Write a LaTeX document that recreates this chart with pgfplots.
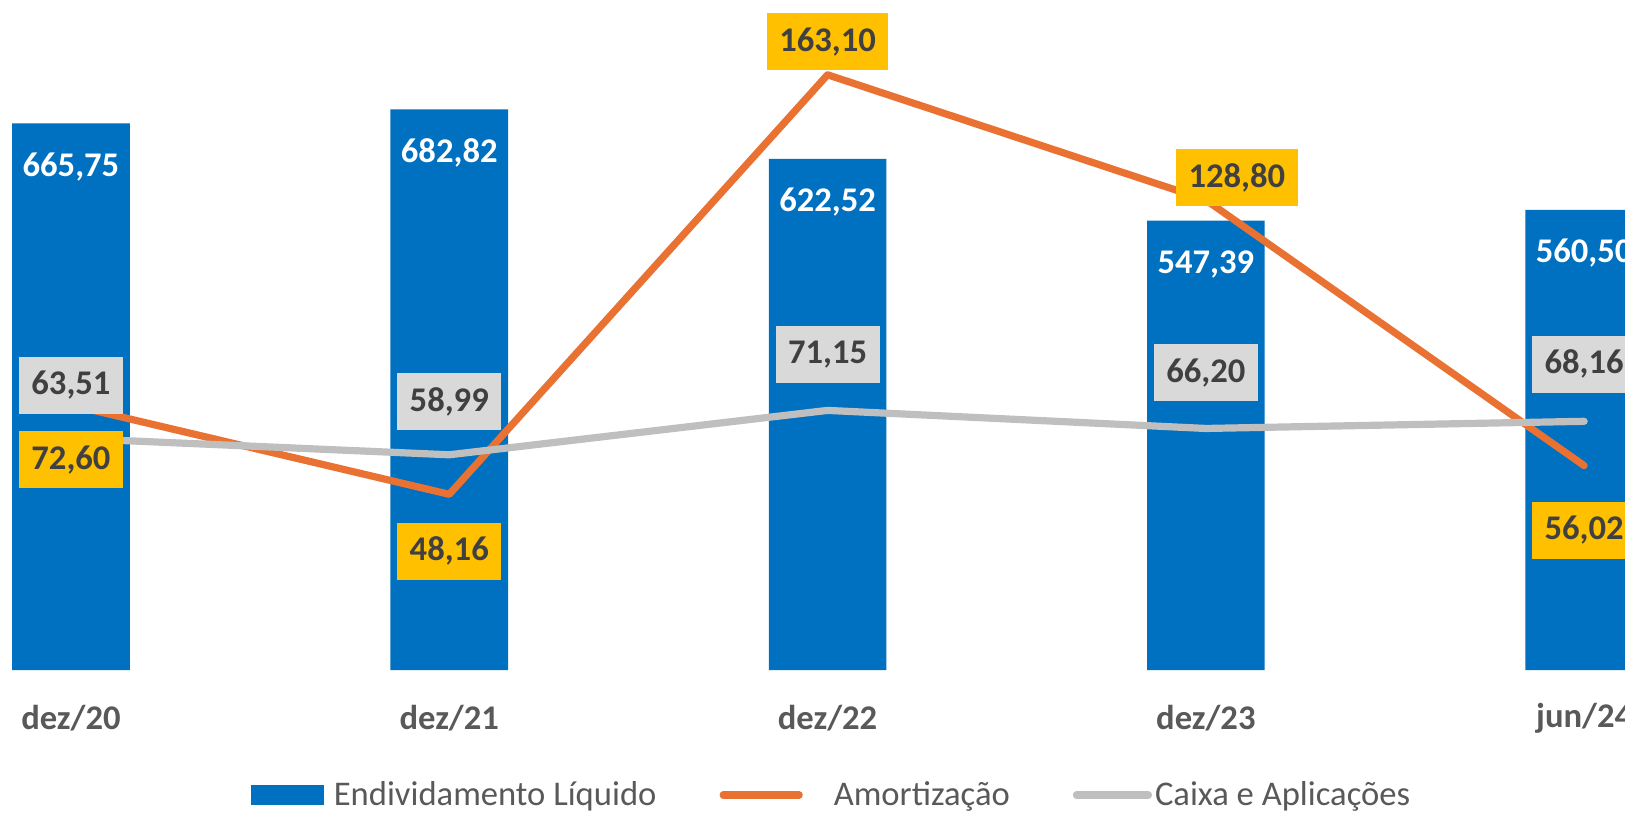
\documentclass[border=0pt]{standalone}
\usepackage{pgfplots}
\pgfplotsset{compat=1.18}
\usepackage{pgfplotstable}
\usepackage{fontspec}
\setmainfont{Carlito}
\definecolor{barblue}{HTML}{0070C0}
\definecolor{amort}{HTML}{E97132}
\definecolor{caixa}{HTML}{BFBFBF}
\definecolor{ybox}{HTML}{FFC000}
\definecolor{gbox}{HTML}{D9D9D9}
\definecolor{lbl}{HTML}{404040}
\definecolor{txt}{HTML}{595959}
\newcommand\lblfont{\fontsize{17.3pt}{20pt}\selectfont\bfseries}
\newcommand\legfont{\fontsize{17.3pt}{20pt}\selectfont}

% values
\pgfplotstableread{
x bar amort caixa
0 665.75 72.60 63.51
1 682.82 48.16 58.99
2 622.52 163.10 71.15
3 547.39 128.80 66.20
4 560.50 56.02 68.16
}\data
% label positions (secondary axis units)
\pgfplotstableread{
ax ay amort cx cy caixa
0 57.64 72.60 0 78.09 63.51
1 32.54 48.16 1 73.51 58.99
2 172.20 163.10 2 86.33 71.15
3.082 134.83 128.80 3 81.49 66.20
4 38.32 56.02 4 83.78 68.16
}\labels

\pgfplotsset{base/.style={
  scale only axis, width=945.75pt, height=328.5pt,
  xmin=-0.5, xmax=4.5, at={(-59.1pt,71.45pt)}, anchor=south west,
  axis line style={draw=none}, ytick=\empty, major tick length=0pt,
  clip=false,
  /pgf/number format/fixed, /pgf/number format/fixed zerofill,
  /pgf/number format/precision=2, /pgf/number format/use comma,
  /pgf/number format/1000 sep={}, /pgf/number format/assume math mode=true,
}}

\begin{document}
\begin{tikzpicture}
\useasboundingbox (0,0) rectangle (812.5pt,406.5pt);
\clip (0,0) rectangle (812.5pt,406.5pt);
\begin{axis}[base, ybar, bar width=58.8pt, ymin=0, ymax=800,
  xtick={0,1,2,3,4}, xticklabels={dez/20,dez/21,dez/22,dez/23,jun/24},
  xticklabel style={font=\lblfont, text=txt, anchor=center, yshift=-24.2pt},
  nodes near coords, point meta=y,
  every node near coord/.append style={font=\lblfont, text=white, anchor=center, yshift=-21.75pt},
]
\addplot[fill=barblue, draw=none] table[x=x, y=bar]{\data};
\end{axis}
\begin{axis}[base, ymin=0, ymax=180, xtick=\empty,
  legend columns=3,
  legend style={at={(0.5016,-0.1901)}, anchor=center, draw=none, fill=none,
    font=\legfont, text=txt, inner sep=0pt,
    nodes={inner sep=0pt},
    /tikz/every even column/.append style={column sep=31.5pt}},
  legend cell align=left,
]
\addlegendimage{legend image code/.code={\fill[barblue] (0pt,-4.75pt) rectangle (36pt,4.75pt);}}
\addlegendentry{\hspace{5pt}Endividamento Líquido}
\addplot[amort, line width=3.6pt, line cap=round, line join=round, mark=none,
  legend image code/.code={\draw (0pt,0pt) -- (38pt,0pt);}] table[x=x, y=amort]{\data};
\addlegendentry{\hspace{15.5pt}Amortização\hspace{5pt}}
\addplot[caixa, line width=3.6pt, line cap=round, line join=round, mark=none,
  legend image code/.code={\draw (0pt,0pt) -- (36pt,0pt);}] table[x=x, y=caixa]{\data};
\addlegendentry{\hspace{1.5pt}Caixa e Aplicações}
% labels
\addplot[draw=none, mark=none, forget plot, nodes near coords, point meta=explicit,
  every node near coord/.append style={font=\lblfont, text=lbl, fill=ybox, anchor=center,
    inner xsep=6.25pt, inner ysep=0pt, minimum height=28.5pt}]
  table[x=ax, y=ay, meta=amort]{\labels};
\addplot[draw=none, mark=none, forget plot, nodes near coords, point meta=explicit,
  every node near coord/.append style={font=\lblfont, text=lbl, fill=gbox, anchor=center,
    inner xsep=6.25pt, inner ysep=0pt, minimum height=28.5pt}]
  table[x=cx, y=cy, meta=caixa]{\labels};
\end{axis}
\end{tikzpicture}
\end{document}
